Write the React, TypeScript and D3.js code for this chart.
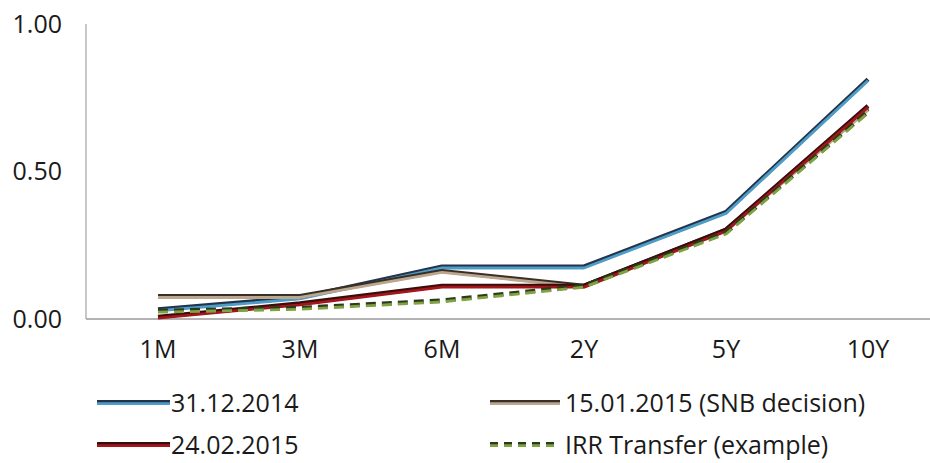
import React from "react";
import * as d3 from "d3";

const categories = ["1M", "3M", "6M", "2Y", "5Y", "10Y"];
const yTicks = [0, 0.5, 1.0];

const s31122014 = [0.03, 0.07, 0.175, 0.175, 0.36, 0.81];
const s15012015 = [0.075, 0.075, 0.16, 0.11, 0.30, 0.71];
const s24022015 = [0.005, 0.05, 0.11, 0.11, 0.30, 0.72];
const sIRR = [0.025, 0.035, 0.06, 0.11, 0.29, 0.70];

const seriesNames = ["31.12.2014", "15.01.2015 (SNB decision)", "24.02.2015", "IRR Transfer (example)"];

const W = 930;
const H = 463;
const FONT = "'Open Sans', 'Noto Sans', sans-serif";

export default function App() {
  const x = d3.scalePoint<string>().domain(categories).range([158, 868]);
  const y = d3.scaleLinear().domain([0, 1]).range([319, 24]);

  const series = [
    { name: seriesNames[0], values: s31122014, color: "#4e9cc8", dark: "#23344a", dash: undefined },
    { name: seriesNames[1], values: s15012015, color: "#bba68e", dark: "#3a2f26", dash: undefined },
    { name: seriesNames[2], values: s24022015, color: "#a3161c", dark: "#3a0c0c", dash: undefined },
    { name: seriesNames[3], values: sIRR, color: "#7fa342", dark: "#2c3a1c", dash: "10,6" },
  ];

  const line = d3
    .line<number>()
    .x((_, i) => x(categories[i]) as number)
    .y((d) => y(d));

  const legendPos = [
    { lx: 97, ly: 403, tx: 171 },
    { lx: 490, ly: 403, tx: 565 },
    { lx: 97, ly: 445, tx: 171 },
    { lx: 490, ly: 445, tx: 565 },
  ];
  const legendLen = [73, 70, 73, 70];

  return (
    <svg width={W} height={H} style={{ position: "absolute", left: 0, top: 0, background: "#fff" }}>
      <rect x={0} y={0} width={W} height={H} fill="#fff" />
      <line x1={86} x2={86} y1={y(1)} y2={y(0)} stroke="#b5b5b5" strokeWidth={1.5} />
      <line x1={86} x2={W} y1={y(0)} y2={y(0)} stroke="#9a9a9a" strokeWidth={1.5} />
      {yTicks.map((t) => (
        <text key={t} x={62} y={y(t)} dy="0.35em" textAnchor="end" fontFamily={FONT} fontSize={25} fill="#1a1a1a">
          {t.toFixed(2)}
        </text>
      ))}
      {categories.map((c) => (
        <text key={c} x={x(c)} y={358} textAnchor="middle" fontFamily={FONT} fontSize={25} fill="#1a1a1a">
          {c}
        </text>
      ))}
      {series.map((s) => (
        <g key={s.name}>
          <path d={line(s.values) || ""} fill="none" stroke={s.dark} strokeWidth={4.2} strokeDasharray={s.dash} transform="translate(0,-0.8)" strokeLinejoin="round" />
          <path d={line(s.values) || ""} fill="none" stroke={s.color} strokeWidth={2.8} strokeDasharray={s.dash} transform="translate(0,0.6)" strokeLinejoin="round" />
        </g>
      ))}
      {series.map((s, i) => {
        const p = legendPos[i];
        return (
          <g key={"lg" + s.name}>
            <line x1={p.lx} x2={p.lx + legendLen[i]} y1={p.ly - 0.8} y2={p.ly - 0.8} stroke={s.dark} strokeWidth={4.2} strokeDasharray={s.dash ? "8,6" : undefined} />
            <line x1={p.lx} x2={p.lx + legendLen[i]} y1={p.ly + 0.6} y2={p.ly + 0.6} stroke={s.color} strokeWidth={2.8} strokeDasharray={s.dash ? "8,6" : undefined} />
            <text x={p.tx} y={p.ly} dy="0.35em" fontFamily={FONT} fontSize={25} fill="#1a1a1a">
              {s.name}
            </text>
          </g>
        );
      })}
    </svg>
  );
}
